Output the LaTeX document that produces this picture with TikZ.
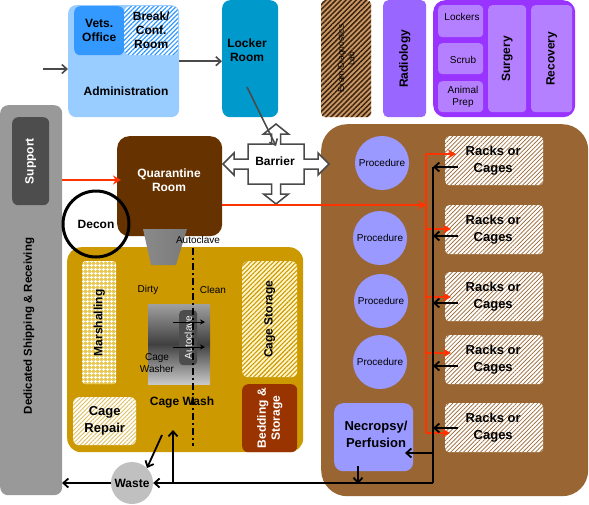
\documentclass[tikz,border=0pt]{standalone}
\usepackage{fontspec}
\setmainfont{Liberation Sans}
\usetikzlibrary{arrows.meta,patterns.meta}
\definecolor{adminblue}{HTML}{99CCFF}
\definecolor{vetblue}{HTML}{3399FF}
\definecolor{lockerblue}{HTML}{0099CC}
\definecolor{examtan}{HTML}{CC9966}
\definecolor{examdark}{HTML}{3D2410}
\definecolor{radpurple}{HTML}{9966FF}
\definecolor{surgpurple}{HTML}{9933FF}
\definecolor{surginner}{HTML}{B580FF}
\definecolor{shipgray}{HTML}{999999}
\definecolor{supgray}{HTML}{4D4D4D}
\definecolor{quarbrown}{HTML}{663300}
\definecolor{procbrown}{HTML}{996633}
\definecolor{proclav}{HTML}{9999FF}
\definecolor{cwgold}{HTML}{CC9900}
\definecolor{bedding}{HTML}{993300}
\definecolor{wastegray}{HTML}{C0C0C0}
\definecolor{redline}{HTML}{FF3300}
\definecolor{arrowgray}{HTML}{4A4A4A}
\definecolor{funnelA}{HTML}{8A8A8A}
\definecolor{funnelB}{HTML}{C8C8C8}
\definecolor{funnelC}{HTML}{7A7A7A}
\definecolor{washA}{HTML}{A0A0A0}
\definecolor{washB}{HTML}{404040}
\definecolor{washC}{HTML}{C8C8C8}
\definecolor{storagepale}{HTML}{FFF6CC}
\definecolor{repairline}{HTML}{E0C060}
\definecolor{marshfill}{HTML}{E8C850}
\tikzset{
  room/.style={inner sep=0pt, anchor=north west, rounded corners=8pt, draw=none},
  inner/.style={room, rounded corners=4pt, fill=surginner},
  lbl/.style={font=\bfseries\fontsize{12}{14}\selectfont, align=center, inner sep=0pt},
  biglbl/.style={font=\bfseries\fontsize{13}{17}\selectfont, align=center, inner sep=0pt},
  small/.style={font=\fontsize{10}{12}\selectfont, align=center, inner sep=0pt},
  proccirc/.style={circle, fill=proclav, minimum size=54pt, inner sep=0pt, font=\fontsize{10}{12}\selectfont},
  rackbox/.style={room, rounded corners=4pt, fill=white, minimum width=98pt, minimum height=49pt,
     postaction={pattern={Lines[angle=45,distance=3pt,line width=0.7pt]}, pattern color=procbrown}},
  blk/.style={draw=black, line width=1.8pt},
  barr/.style={blk, -{Straight Barb[length=5pt,width=9pt]}},
  rline/.style={draw=redline, line width=1.8pt},
  rarr/.style={rline, -{Stealth[length=8pt,width=9pt]}},
  garr/.style={draw=arrowgray, line width=1.6pt, -{Straight Barb[length=5pt,width=9pt]}},
}
\begin{document}
\begin{tikzpicture}[x=1pt,y=-1pt]
\useasboundingbox (0,0) rectangle (589,504);
\fill[white] (0,0) rectangle (589,504);

% Administration
\node[room, fill=adminblue, minimum width=111pt, minimum height=112pt] (admin) at (68,5) {};
\node[room, rounded corners=6pt, fill=vetblue, minimum width=50pt, minimum height=49pt] (vets) at (74,6) {};
\node[lbl] (vetslbl) at (vets.center) {Vets.\\Office};
\node[room, rounded corners=6pt, fill=white, minimum width=54pt, minimum height=49pt,
  postaction={pattern={Lines[angle=45,distance=3.2pt,line width=1.2pt]}, pattern color=vetblue}] (brk) at (124,6) {};
\node[lbl] (brklbl) at (brk.center) {Break/\\Conf.\\Room};
\node[lbl] (adminlbl) at (126,91) {Administration};

% Locker room
\node[room, fill=lockerblue, minimum width=56pt, minimum height=117pt] (locker) at (222,0) {};
\node[lbl] (lockerlbl) at (247,50) {Locker\\Room};

% Exam lab
\node[room, rounded corners=4pt, fill=examtan, minimum width=50pt, minimum height=117pt,
  postaction={pattern={Lines[angle=45,distance=3.6pt,line width=1.5pt]}, pattern color=examdark}] (exam) at (321,0) {};
\node[small, rotate=90, font=\fontsize{8.5}{10.5}\selectfont] (examlbl) at (exam.center) {Exam/Diagnostics\\Lab};

% Radiology
\node[room, rounded corners=5pt, fill=radpurple, minimum width=43pt, minimum height=117pt] (rad) at (383,0) {};
\node[lbl, rotate=90] (radlbl) at (rad.center) {Radiology};

% Surgery suite
\node[room, rounded corners=12pt, fill=surgpurple, minimum width=142pt, minimum height=117pt] (suite) at (433,0) {};
\node[inner, minimum width=45pt, minimum height=32pt] (lockers) at (438,5) {};
\node[small] (lockerslbl) at (462,17) {Lockers};
\node[inner, minimum width=45pt, minimum height=31pt] (scrub) at (438,43) {};
\node[small] (scrublbl) at (463,60) {Scrub};
\node[inner, minimum width=45pt, minimum height=31pt] (prep) at (438,81) {};
\node[small] (preplbl) at (463,97) {Animal\\Prep};
\node[inner, minimum width=38pt, minimum height=107pt] (surg) at (488,5) {};
\node[lbl, rotate=90] (surglbl) at (surg.center) {Surgery};
\node[inner, minimum width=41pt, minimum height=107pt] (recov) at (531,5) {};
\node[lbl, rotate=90] (recovlbl) at (recov.center) {Recovery};

% Shipping & receiving
\node[room, fill=shipgray, minimum width=62pt, minimum height=390pt] (ship) at (0,105) {};
\node[room, rounded corners=6pt, fill=supgray, minimum width=37pt, minimum height=88pt] (support) at (12,117) {};
\node[lbl, rotate=90, text=white] (suplbl) at (support.center) {Support};
\node[lbl, rotate=90, font=\bfseries\fontsize{11.5}{14}\selectfont] (shiplbl) at (29,326) {Dedicated Shipping \& Receiving};

% Procedure area
\node[room, rounded corners=26pt, fill=procbrown, minimum width=267pt, minimum height=372pt] (proc) at (321,124) {};
\node[proccirc] (p1) at (382,163) {Procedure};
\node[proccirc] (p2) at (380,238) {Procedure};
\node[proccirc] (p3) at (381,301) {Procedure};
\node[proccirc] (p4) at (380,362) {Procedure};
\node[room, rounded corners=9pt, fill=proclav, minimum width=79pt, minimum height=68pt] (necro) at (334,403) {};
\node[biglbl] (necrolbl) at (376,434) {Necropsy/\\Perfusion};
\node[rackbox] (r1) at (445,136) {};
\node[rackbox] (r2) at (445,205) {};
\node[rackbox] (r3) at (445,272) {};
\node[rackbox] (r4) at (445,335) {};
\node[rackbox] (r5) at (445,403) {};
\foreach \r in {r1,r2,r3,r4,r5}{
  \node[biglbl] (\r lbl) at ([xshift=-1pt]\r.center) {Racks or\\Cages};
}

% Quarantine
\node[room, rounded corners=12pt, fill=quarbrown, minimum width=105pt, minimum height=100pt] (quar) at (117,136) {};
\node[lbl, text=white] (quarlbl) at (169,180) {Quarantine\\Room};

% Cage wash
\node[room, rounded corners=14pt, fill=cwgold, minimum width=236pt, minimum height=205pt] (cw) at (67,247) {};
\node[room, rounded corners=3pt, fill=marshfill, minimum width=34pt, minimum height=123pt,
  postaction={pattern={Hatch[angle=0,distance=4pt,line width=1.2pt]}, pattern color=white}] (marsh) at (82,261) {};
\node[lbl, rotate=90] (marshlbl) at (marsh.center) {Marshalling};
\node[room, rounded corners=6pt, fill=storagepale, minimum width=55pt, minimum height=116pt,
  postaction={pattern={Lines[angle=45,distance=3.2pt,line width=1.1pt]}, pattern color=cwgold}] (cstore) at (242,261) {};
\node[lbl, rotate=90] (cstorelbl) at (cstore.center) {Cage Storage};
\node[room, rounded corners=6pt, fill=bedding, minimum width=55pt, minimum height=68pt] (bed) at (242,384) {};
\node[lbl, rotate=90, text=white] (bedlbl) at (bed.center) {Bedding \&\\Storage};
\node[room, rounded corners=6pt, fill=white, minimum width=63pt, minimum height=48pt,
  postaction={pattern={Lines[angle=45,distance=3pt,line width=0.9pt]}, pattern color=repairline}] (repair) at (73,397) {};
\node[biglbl] (repairlbl) at (repair.center) {Cage\\Repair};
\node[small] (dirty) at (148,290) {Dirty};
\node[small] (clean) at (213,290) {Clean};
\shade[top color=washA, bottom color=washC, middle color=washB] (148,304) rectangle (210,384);
\node[room, rounded corners=4pt, fill=supgray, minimum width=18pt, minimum height=55pt] (acl) at (179,310) {};
\node[small, rotate=90, text=white] (acllbl) at (acl.center) {Autoclave};
\node[small] (washerlbl) at (157,363) {Cage\\Washer};
\coordinate (w1s) at (173,322); \coordinate (w1e) at (205,322);
\coordinate (w2s) at (173,347); \coordinate (w2e) at (205,347);
\draw[line width=0.9pt, -{Stealth[length=5pt,width=5pt]}] (w1s) -- (w1e);
\draw[line width=0.9pt, -{Stealth[length=5pt,width=5pt]}] (w2s) -- (w2e);
\node[lbl] (cwlbl) at (182,402) {Cage Wash};
\coordinate (dtop) at (193,248); \coordinate (dbot) at (193,446);
\draw[line width=2pt, dash pattern=on 7pt off 3pt on 2pt off 3pt] (dtop) -- (dbot);

% Autoclave funnel
\shade[left color=funnelA, middle color=funnelB, right color=funnelC] (143,229) -- (187,229) -- (176,265) -- (151,265) -- cycle;
\node[small] (funnellbl) at (198,240) {Autoclave};

% Decon
\node[circle, draw=black, line width=3pt, minimum size=66pt, inner sep=0pt, font=\bfseries\fontsize{12}{14}\selectfont] (decon) at (96,224) {Decon};

% Barrier
\draw[draw=arrowgray, line width=1.5pt, fill=white, shift={(276,164)}]
  (0,-40) -- (12.5,-30) -- (4.5,-30) -- (4.5,-20) -- (28,-20) -- (28,-5) -- (42,-5) -- (42,-11) -- (53,0)
  -- (42,11) -- (42,5) -- (28,5) -- (28,20) -- (4.5,20) -- (4.5,30) -- (12.5,30) -- (0,40)
  -- (-12.5,30) -- (-4.5,30) -- (-4.5,20) -- (-28,20) -- (-28,5) -- (-42,5) -- (-42,11) -- (-53,0)
  -- (-42,-11) -- (-42,-5) -- (-28,-5) -- (-28,-20) -- (-4.5,-20) -- (-4.5,-30) -- (-12.5,-30) -- cycle;
\node[lbl] (barrier) at (275,161) {Barrier};

% Gray arrows
\coordinate (inA) at (43,69);
\draw[garr] (inA) -- (inA -| admin.west);
\draw[garr] (admin.east) -- (locker.west |- admin.east);
\coordinate (lk) at (247,87); \coordinate (bt) at (276,146);
\draw[garr] (lk) -- (bt);

% Red lines
\coordinate (sr) at (62,180); \coordinate (srE) at (121,180);
\draw[rarr] (sr) -- (srE);
\coordinate (qr) at (222,205); \coordinate (qrE) at (426,205);
\draw[rarr] (qr) -- (qrE);
\coordinate (rtop) at (426,154); \coordinate (rbot) at (426,433);
\draw[rline] (rtop) -- (rbot);
\foreach \y/\e in {154/456,229/451,297/451,353/451,433/450}{
  \coordinate (rs\y) at (426,\y); \coordinate (re\y) at (\e,\y);
  \draw[rarr] (rs\y) -- (re\y);
}

% Black lines
\coordinate (btop) at (433,167); \coordinate (bbot) at (433,483);
\draw[blk] (btop) -- (bbot);
\foreach \y in {167,236,303,366,428}{
  \coordinate (bs\y) at (458,\y); \coordinate (be\y) at (433,\y);
  \draw[barr] (bs\y) -- (be\y);
}
\coordinate (nb) at (433,453); \coordinate (nbE) at (405,453);
\draw[barr] (nb) -- (nbE);
\coordinate (nd) at (358,466); \coordinate (ndE) at (358,484);
\draw[barr] (nd) -- (ndE);

% Waste
\node[circle, fill=wastegray, minimum size=42pt, inner sep=0pt, font=\bfseries\fontsize{12}{14}\selectfont] (waste) at (132,483) {Waste};
\draw[barr] (bbot) -- (waste.east);
\coordinate (sb) at (62,483);
\draw[barr] (waste.west) -- (sb);
\coordinate (upS) at (173,483); \coordinate (upE) at (173,430);
\draw[barr] (upS) -- (upE);
\coordinate (cwo) at (162,435);
\draw[barr] (cwo) -- (waste.north east);
\end{tikzpicture}
\end{document}
